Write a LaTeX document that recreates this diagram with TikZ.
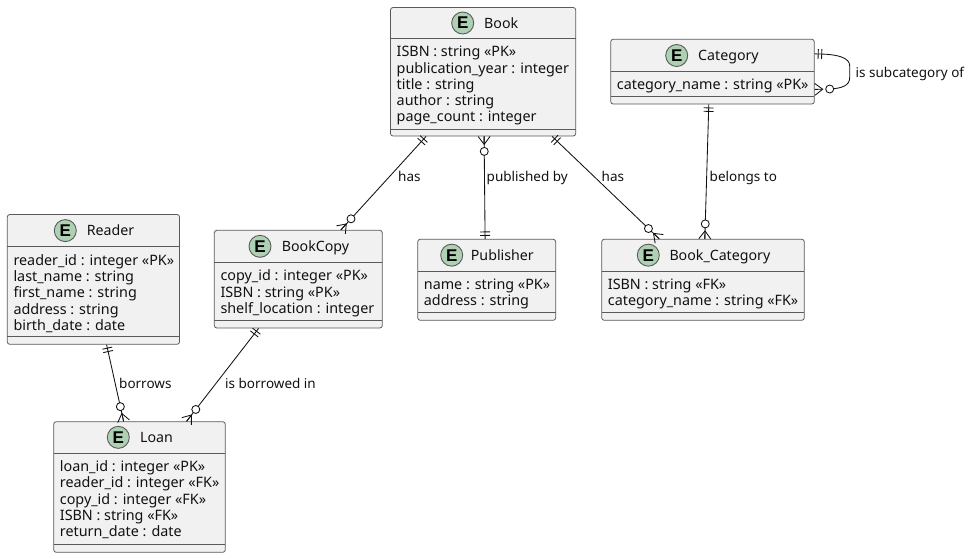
\documentclass[tikz,border=0pt]{standalone}
\usepackage{fontspec}
\setmainfont{Noto Sans}
\newfontfamily\spotfont{Liberation Sans}
\usetikzlibrary{calc}
\definecolor{boxfill}{HTML}{F1F1F1}
\definecolor{boxline}{HTML}{5A5A5A}
\definecolor{spot}{HTML}{ADD1B2}
\definecolor{ink}{HTML}{111111}
\tikzset{
  entitybox/.style={draw=boxline,fill=boxfill,line width=.8pt,rounded corners=2.5pt,inner sep=0pt},
  divider/.style={draw=boxline,line width=.8pt},
  spotmark/.style={circle,draw=boxline,fill=spot,line width=.9pt,minimum size=22pt,inner sep=0pt,font=\spotfont\fontsize{17}{17}\selectfont\bfseries,text=black},
  titletext/.style={anchor=base west,inner sep=0pt,font=\fontsize{14.2}{16}\selectfont,text=ink},
  attrtext/.style={anchor=north west,inner sep=0pt,align=left,font=\fontsize{14.35}{16.25}\selectfont,text=ink},
  linklabel/.style={anchor=base west,inner sep=0pt,font=\fontsize{13.5}{15}\selectfont,text=ink},
  conn/.style={draw=ink,line width=.85pt},
  ringmark/.style={circle,draw=ink,fill=white,line width=.85pt,minimum size=8pt,inner sep=0pt},
}
% name, x0, y0, x1, y1, separator, footer, spot x, title x; title and attributes set beforehand
\newcommand\entity[9]{%
  \node[entitybox,minimum width={(#4-#2)*1pt},minimum height={(#5-#3)*1pt}] (#1) at ({(#2+#4)/2},{(#3+#5)/2}) {};
  \draw[divider] (#2,#6) -- (#4,#6);
  \draw[divider] (#2,#7) -- (#4,#7);
  \node[spotmark] (#1spot) at (#8,{(#3+#6)/2}) {E};
  \node[titletext] (#1title) at (#9,{(#3+#6)/2+5.2}) {\entitytitle};
  \node[attrtext] (#1attrs) at ({#2+6},{#6+7.5}) {\entityattrs};
}
\newcommand\tickend[2]{%
  \draw[conn] ($(#1)!3.5pt!(#2)$) -- ($($(#1)!3.5pt!(#2)$)!5pt!90:(#2)$);
  \draw[conn] ($(#1)!3.5pt!(#2)$) -- ($($(#1)!3.5pt!(#2)$)!5pt!-90:(#2)$);
  \draw[conn] ($(#1)!7pt!(#2)$) -- ($($(#1)!7pt!(#2)$)!5pt!90:(#2)$);
  \draw[conn] ($(#1)!7pt!(#2)$) -- ($($(#1)!7pt!(#2)$)!5pt!-90:(#2)$);
}
\newcommand\crowend[2]{%
  \draw[conn] ($(#1)!6pt!90:(#2)$) -- ($(#1)!8pt!(#2)$) -- ($(#1)!6pt!-90:(#2)$);
  \draw[conn] (#1) -- ($(#1)!8pt!(#2)$);
  \node[ringmark] at ($(#1)!15pt!(#2)$) {};
}
\newcommand\link[4]{% from, to, end kind at from, end kind at to
  \draw[conn] (#1) -- (#2);
  \csname #3end\endcsname{#1}{#2}
  \csname #4end\endcsname{#2}{#1}
}
\begin{document}
\begin{tikzpicture}[x=1pt,y=-1pt]
\useasboundingbox (0,0) rectangle (975,558);

\def\entitytitle{Book}\def\entityattrs{ISBN : string «PK»\\publication\_year : integer\\title : string\\author : string\\page\_count : integer}
\entity{book}{390.5}{7.5}{575.7}{136}{38.5}{129}{462.7}{484}
\def\entitytitle{Category}\def\entityattrs{category\_name : string «PK»}
\entity{cat}{610.7}{39.3}{814.3}{104}{71.7}{96}{676.7}{698}
\def\entitytitle{Reader}\def\entityattrs{reader\_id : integer «PK»\\last\_name : string\\first\_name : string\\address : string\\birth\_date : date}
\entity{reader}{7.3}{214.5}{179.5}{344.3}{246.7}{336}{65.3}{86.7}
\def\entitytitle{BookCopy}\def\entityattrs{copy\_id : integer «PK»\\ISBN : string «PK»\\shelf\_location : integer}
\entity{copy}{214.3}{230.3}{382.3}{328}{262.3}{320}{260}{281.7}
\def\entitytitle{Publisher}\def\entityattrs{name : string «PK»\\address : string}
\entity{pub}{417.7}{239.3}{555.7}{320.3}{271}{312.3}{451.7}{470.7}
\def\entitytitle{Book\_Category}\def\entityattrs{ISBN : string «FK»\\category\_name : string «FK»}
\entity{bc}{601.7}{239.3}{804.3}{320.3}{271}{312.3}{648.3}{669.3}
\def\entitytitle{Loan}\def\entityattrs{loan\_id : integer «PK»\\reader\_id : integer «FK»\\copy\_id : integer «FK»\\ISBN : string «FK»\\return\_date : date}
\entity{loan}{53.7}{421.7}{225.3}{552.3}{453}{544.3}{118.3}{140}

\coordinate (b1) at ($(book.south west)+(36,0)$);
\coordinate (c1) at ($(copy.north west)+(127,0)$);
\link{b1}{c1}{tick}{crow}
\coordinate (b2) at ($(book.south west)+(94,0)$);
\coordinate (p1) at ($(pub.north west)+(67.8,0)$);
\link{b2}{p1}{crow}{tick}
\coordinate (b3) at ($(book.south west)+(162,0)$);
\coordinate (k1) at ($(bc.north west)+(58,0)$);
\link{b3}{k1}{tick}{crow}
\coordinate (g1) at ($(cat.south west)+(98.5,0)$);
\coordinate (k2) at ($(bc.north west)+(103.5,0)$);
\link{g1}{k2}{tick}{crow}
\coordinate (r1) at ($(reader.south west)+(99.7,0)$);
\coordinate (l1) at ($(loan.north west)+(70.3,0)$);
\link{r1}{l1}{tick}{crow}
\coordinate (c2) at ($(copy.south west)+(44.7,0)$);
\coordinate (l2) at ($(loan.north west)+(133.3,0)$);
\link{c2}{l2}{tick}{crow}

% self loop on Category
\coordinate (s1) at ($(cat.north east)+(0,15)$);
\coordinate (s1dir) at ($(s1)+(20,0.7)$);
\coordinate (s2) at ($(cat.north east)+(0,50.5)$);
\coordinate (s2dir) at ($(s2)+(20,-0.5)$);
\draw[conn] (s1) .. controls ($(s1)+(24,0)$) and ($(s1)+(35,4)$) .. ($(s1)+(35,12)$)
  -- ($(s2)+(35,-12)$) .. controls ($(s2)+(35,-4)$) and ($(s2)+(28,-1)$) .. ($(s2)+(14,-0.3)$);
\tickend{s1}{s1dir}
\crowend{s2}{s2dir}

\node[linklabel] (t1) at (398,181) {has};
\node[linklabel] (t2) at (486.5,181) {published by};
\node[linklabel] (t3) at (601.5,181) {has};
\node[linklabel] (t4) at (709.5,181) {belongs to};
\node[linklabel] (t5) at (855.5,77) {is subcategory of};
\node[linklabel] (t6) at (119,388) {borrows};
\node[linklabel] (t7) at (225,388) {is borrowed in};
\end{tikzpicture}
\end{document}
